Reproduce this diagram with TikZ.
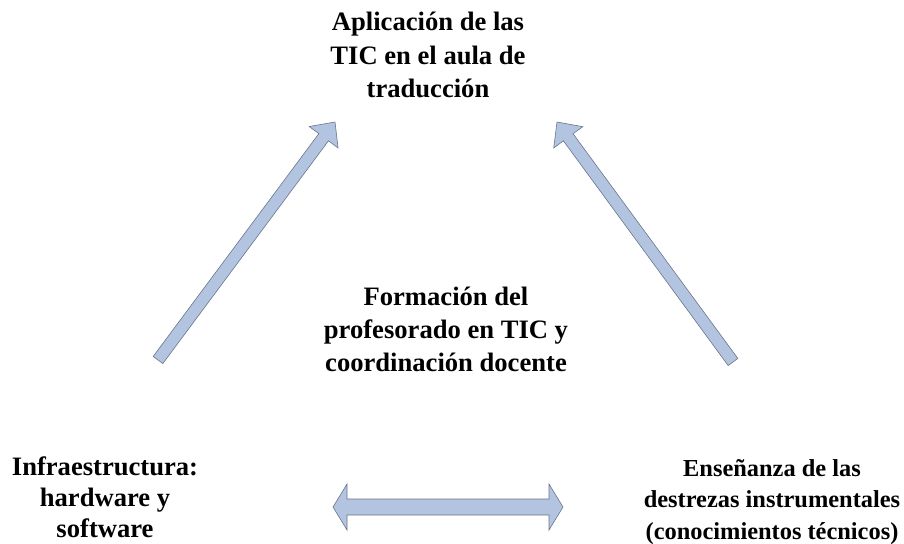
\documentclass[tikz,border=0pt]{standalone}
\usepackage{fontspec}
\setmainfont{Liberation Serif}
\usetikzlibrary{calc}
\definecolor{arrfill}{RGB}{178,196,224}
\definecolor{arrline}{RGB}{105,118,138}
\tikzset{
  lbl/.style={inner sep=0pt, align=center, text=black},
  blk/.style={fill=arrfill, draw=arrline, line width=0.6pt, line join=miter},
}
\newcommand{\blkarrow}[5]{% tail, tip, half shaft, half head, head length
  \coordinate (hb) at ($(#2)!#5!(#1)$);
  \path[blk] ($(#1)!#3!90:(#2)$) -- ($(hb)!#3!90:(#2)$) -- ($(hb)!#4!90:(#2)$) -- (#2)
    -- ($(hb)!#4!-90:(#2)$) -- ($(hb)!#3!-90:(#2)$) -- ($(#1)!#3!-90:(#2)$) -- cycle;
}
\begin{document}
\begin{tikzpicture}[x=1pt,y=-1pt]
\useasboundingbox (0,0) rectangle (904,543);
\node[lbl, font=\fontsize{26.6}{33.5}\selectfont\bfseries] (top) at (428,55)
  {Aplicación de las\\TIC en el aula de\\traducción};
\node[lbl, font=\fontsize{26.6}{33}\selectfont\bfseries] (mid) at (446,329)
  {Formación del\\profesorado en TIC y\\coordinación docente};
\node[lbl, font=\fontsize{26.6}{31}\selectfont\bfseries] (left) at (105,497)
  {Infraestructura:\\hardware y\\software};
\node[lbl, font=\fontsize{24.4}{31.5}\selectfont\bfseries] (right) at (772,502)
  {Enseñanza de las\\destrezas instrumentales\\(conocimientos técnicos)};
% arrow end points
\coordinate (la0) at (158,360);
\coordinate (la1) at (335,122);
\coordinate (ra0) at (733,362);
\coordinate (ra1) at (557,122);
\coordinate (ba0) at (333,507);
\coordinate (ba1) at (563,507);
\blkarrow{la0}{la1}{6pt}{18pt}{19pt}
\blkarrow{ra0}{ra1}{6pt}{18pt}{19pt}
% double arrow
\coordinate (hl) at ($(ba0)!14pt!(ba1)$);
\coordinate (hr) at ($(ba1)!14pt!(ba0)$);
\path[blk] (ba0) -- ($(hl)!23pt!90:(ba1)$) -- ($(hl)!8pt!90:(ba1)$) -- ($(hr)!8pt!-90:(ba0)$)
  -- ($(hr)!23pt!-90:(ba0)$) -- (ba1) -- ($(hr)!23pt!90:(ba0)$) -- ($(hr)!8pt!90:(ba0)$)
  -- ($(hl)!8pt!-90:(ba1)$) -- ($(hl)!23pt!-90:(ba1)$) -- cycle;
\end{tikzpicture}
\end{document}
